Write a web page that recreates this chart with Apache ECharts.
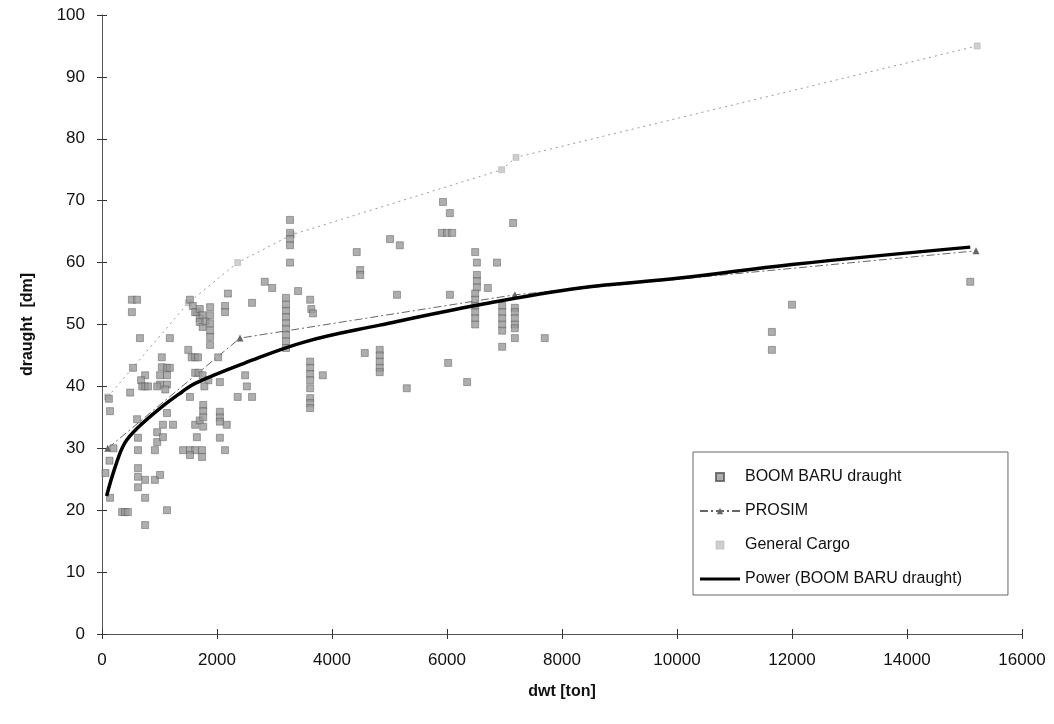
<!DOCTYPE html>
<html>
<head>
<meta charset="utf-8">
<script src="https://cdn.jsdelivr.net/npm/echarts@6/dist/echarts.min.js"></script>
<style>
html,body{margin:0;padding:0;background:#fff;}
#chart{width:1054px;height:724px;}
</style>
</head>
<body>
<div id="chart"></div>
<script>
// Tick values
var xTicks = [0, 2000, 4000, 6000, 8000, 10000, 12000, 14000, 16000];
var yTicks = [0, 10, 20, 30, 40, 50, 60, 70, 80, 90, 100];

// BOOM BARU draught observations [dwt, draught]
var boomBaru = [
  [120,38],[140,36],[130,28],[60,26],[140,22],[200,30],
  [520,54],[610,54],[520,52],[540,43],[490,39],[660,47.8],[610,34.7],[626,31.7],[626,29.7],
  [626,26.8],[626,25.4],[626,23.7],[750,41.8],[680,41],[700,40],[750,40],[800,40],[750,24.9],
  [750,22],[350,19.7],[400,19.7],[450,19.7],[750,17.6],
  [920,29.7],[920,24.9],[1010,25.7],[960,32.6],[960,31],[1060,31.8],[1060,33.8],[1130,35.7],
  [1235,33.8],[1180,47.8],[1040,44.7],[1040,43.1],[1130,43],[1180,43],[1010,41.8],[1130,41.8],
  [1010,40.3],[1130,40.3],[960,40],[1100,39.5],[1130,20],
  [1410,29.7],[1530,29.7],[1620,29.7],[1740,29.7],[1530,28.9],[1740,28.6],[1620,33.8],[1700,34.5],
  [1530,54],[1580,53],[1650,52],[1700,51],[1700,50.4],[1750,49.6],[1620,52],[1700,52.5],[1750,51.5],
  [1800,50.5],[1880,52.8],[1880,51.5],[1880,50.2],[1880,49],[1500,45.9],[1560,44.7],[1620,44.7],
  [1620,42.2],[1680,42.2],[1750,41.8],[1530,38.3],[1670,44.7],[1880,48],[1880,46.7],[1850,41],
  [1780,40],[1760,37],[1760,36],[1760,35],[1760,33.5],[1650,31.8],
  [2020,44.7],[2050,40.7],[2050,35.9],[2050,35],[2050,34.3],[2170,33.8],[2050,31.7],[2140,29.7],
  [2140,53],[2140,52],[2190,55],[2490,41.8],[2520,40],[2360,38.3],[2610,38.3],[2610,53.5],
  [2830,56.9],[2960,55.9],[3410,55.4],[3270,66.9],[3270,64.8],[3270,63.8],[3270,62.8],[3270,60],
  [3200,54.3],[3200,53.2],[3200,52.2],[3200,51.2],[3200,50.2],[3200,49.3],[3200,48.3],[3200,47.3],
  [3200,46.2],
  [3620,54],[3640,52.5],[3670,51.8],[3620,44],[3620,43],[3620,42],[3620,41],[3840,41.8],[3620,39.7],
  [3620,38.1],[3620,37.3],[3620,36.5],
  [4430,61.7],[4490,58.8],[4490,58],[5010,63.8],[5180,62.8],[5130,54.8],[4570,45.4],[4830,45.9],
  [4830,45],[4830,44],[4830,43],[4830,42.3],[5300,39.7],
  [5930,69.8],[6050,68],[5910,64.8],[6000,64.8],[6090,64.8],[7150,66.4],[6490,61.7],[6520,60],
  [6520,58],[6520,57],[6520,56],[6870,60],[6710,55.9],[6050,54.8],[6490,55],[6490,54],[6490,53],
  [6490,52],[6490,51],[6490,50],[6960,53],[6960,52],[6960,51],[6960,50],[6960,49],[7180,52.7],
  [7180,52],[7180,51],[7180,50],[7180,49.4],[7180,47.8],[7700,47.8],[6960,46.4],[6020,43.8],[6350,40.7],
  [11650,48.8],[11650,45.9],[12000,53.2],[15100,56.9]
];

// PROSIM
var prosimDwt = [100, 2400, 7180, 15200];
var prosimDraught = [30, 47.8, 54.8, 61.9];

// General Cargo
var cargoDwt = [100, 1500, 2360, 3300, 6950, 7200, 15220];
var cargoDraught = [38.3, 53.5, 60, 64.5, 75, 77, 95];

// Power trend line
var powerDwt = [80, 230, 400, 630, 1040, 1390, 1620, 2490, 3530, 4830, 6570, 8310, 10050, 12000, 15100];
var powerDraught = [22.3, 27, 30.9, 33.4, 36.7, 39.1, 40.5, 43.8, 47.2, 49.9, 53.2, 55.9, 57.5, 59.7, 62.5];

function zip(a, b){ return a.map(function(v,i){ return [v, b[i]]; }); }

var chart = echarts.init(document.getElementById('chart'), null, {renderer:'canvas'});
var font = 'Liberation Sans, Arial, sans-serif';

function baseX(inside){
  return {
    type:'value', gridIndex:0, position:'bottom', offset:0,
    min:xTicks[0], max:xTicks[xTicks.length-1], interval:xTicks[1]-xTicks[0],
    axisLine:{show:!inside, onZero:false, lineStyle:{color:'#555', width:1}},
    axisTick:{show:true, inside:inside, length:5, lineStyle:{color:'#333', width:1}},
    axisLabel:{show:!inside, color:'#111', fontSize:17, fontFamily:font, margin:18,
      formatter:function(v){ return String(v); }},
    splitLine:{show:false},
    name: inside ? '' : 'dwt [ton]', nameLocation:'middle', nameGap:50,
    nameTextStyle:{fontSize:16, fontWeight:'bold', fontFamily:font, color:'#111'}
  };
}
function baseY(inside){
  return {
    type:'value', gridIndex:0, position:'left', offset:0,
    min:yTicks[0], max:yTicks[yTicks.length-1], interval:yTicks[1]-yTicks[0],
    axisLine:{show:!inside, onZero:false, lineStyle:{color:'#555', width:1}},
    axisTick:{show:true, inside:inside, length:5, lineStyle:{color:'#333', width:1}},
    axisLabel:{show:!inside, color:'#111', fontSize:17, fontFamily:font, margin:17},
    splitLine:{show:false},
    name: inside ? '' : 'draught  [dm]', nameLocation:'middle', nameGap:66,
    nameTextStyle:{fontSize:16, fontWeight:'bold', fontFamily:font, color:'#111'}
  };
}

var squarePath = 'path://M0,0L10,0L10,10L0,10Z';
var thickLinePath = 'path://M0,0L40,0L40,3L0,3Z';

var option = {
  backgroundColor:'#fff',
  animation:false,
  grid:{left:102, right:32, top:15, bottom:90},
  xAxis:[baseX(false), baseX(true)],
  yAxis:[baseY(false), baseY(true)],
  legend:{
    orient:'vertical', left:693, top:452,
    padding:[17,46,8,6],
    itemGap:18, itemWidth:40, itemHeight:8,
    borderColor:'#666', borderWidth:1,
    backgroundColor:'#fff',
    textStyle:{fontSize:16, fontFamily:font, color:'#111'},
    data:[
      {name:'BOOM BARU draught', icon:squarePath},
      {name:'PROSIM'},
      {name:'General Cargo', icon:squarePath, itemStyle:{color:'#cfcfcf', borderColor:'#aaa', borderWidth:0.5}},
      {name:'Power (BOOM BARU draught)', icon:thickLinePath, itemStyle:{color:'#000'}}
    ]
  },
  series:[
    {
      name:'General Cargo', type:'line', xAxisIndex:0, yAxisIndex:0,
      data: zip(cargoDwt, cargoDraught),
      symbol:'rect', symbolSize:6,
      itemStyle:{color:'#cfcfcf', borderColor:'#aaa', borderWidth:0.5},
      lineStyle:{color:'#9a9a9a', width:1, type:[2,4]},
      z:2
    },
    {
      name:'PROSIM', type:'line', xAxisIndex:0, yAxisIndex:0,
      data: zip(prosimDwt, prosimDraught),
      symbol:'triangle', symbolSize:7,
      itemStyle:{color:'#666'},
      lineStyle:{color:'#666', width:1, type:[8,3,2,3]},
      z:3
    },
    {
      name:'BOOM BARU draught', type:'scatter', xAxisIndex:0, yAxisIndex:0,
      data: boomBaru,
      symbol:'rect', symbolSize:7,
      itemStyle:{color:'#9a9a9a', borderColor:'#555', borderWidth:0.6},
      z:4
    },
    {
      name:'Power (BOOM BARU draught)', type:'line', xAxisIndex:0, yAxisIndex:0,
      data: zip(powerDwt, powerDraught),
      smooth:0.4, symbol:'none',
      lineStyle:{color:'#000', width:3.5},
      itemStyle:{color:'#000'},
      z:5
    },
    {
      name:'ticks', type:'scatter', xAxisIndex:1, yAxisIndex:1, data:[], silent:true
    }
  ]
};
chart.setOption(option);
</script>
</body>
</html>
